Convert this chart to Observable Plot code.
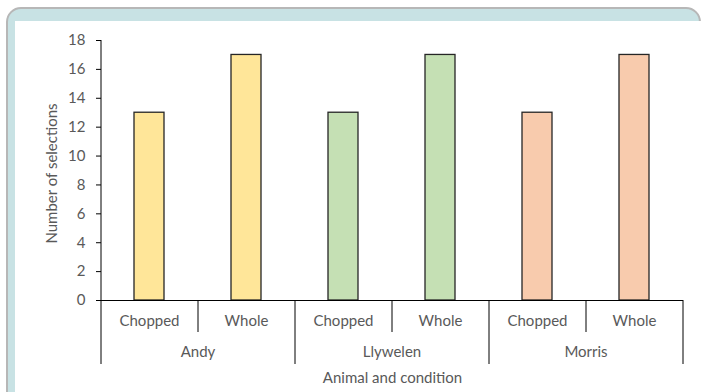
<!DOCTYPE html>
<html>
<head>
<meta charset="utf-8">
<script src="https://cdn.jsdelivr.net/npm/d3@7"></script>
<script src="https://cdn.jsdelivr.net/npm/@observablehq/plot@0.6"></script>
<style>
  html, body { margin: 0; padding: 0; background: #fff; }
  body { width: 701px; height: 392px; position: relative; overflow: hidden; }
  #panel {
    position: absolute; left: 6px; top: 7px; width: 691px; height: 430px;
    border: 2px solid #b7b7b7; border-radius: 15px; background: #c8e2e4;
  }
  #sheet { position: absolute; left: 15px; top: 21px; right: 0; bottom: 0; background: #fff; }
  #chart { position: absolute; left: 0; top: 0; }
</style>
</head>
<body>
<div id="panel"></div>
<div id="sheet"></div>
<div id="chart"></div>
<script>
// Selections per animal and food condition
const animals = ["Andy", "Llywelen", "Morris"];
const conditions = ["Chopped", "Whole"];
const selections = [13, 17, 13, 17, 13, 17];
const animalColors = ["#FFE699", "#C5E0B4", "#F8CBAD"];
const yTicks = [0, 2, 4, 6, 8, 10, 12, 14, 16, 18];
const yLabel = "Number of selections";
const xLabel = "Animal and condition";

const rows = [];
animals.forEach((a, i) => conditions.forEach((c, j) => {
  rows.push({animal: a, condition: c, key: `${a}|${c}`, value: selections[i * conditions.length + j]});
}));
const keys = rows.map(d => d.key);

const width = 701, height = 392;
const marginLeft = 101, marginRight = 18, marginTop = 40, marginBottom = 92;
const plotH = height - marginTop - marginBottom;
const step = (width - marginLeft - marginRight) / keys.length;
const gray = "#595959";

const chart = Plot.plot({
  width, height, marginLeft, marginRight, marginTop, marginBottom,
  style: {fontFamily: "Lato, 'Liberation Sans', sans-serif", fontSize: "15px", color: "#000", background: "transparent", overflow: "visible"},
  x: {type: "band", domain: keys, paddingInner: 0.69, paddingOuter: 0.345, axis: null},
  y: {domain: [0, 18]},
  color: {domain: animals, range: animalColors},
  marks: [
    Plot.barY(rows, {x: "key", y: "value", fill: "animal", stroke: "#262626", strokeWidth: 1.3}),
    Plot.axisY({ticks: yTicks, tickSize: 5, tickPadding: 11, label: null, fill: gray, stroke: "#000"}),
    Plot.ruleX([0], {x: () => keys[0], dx: -step / 2, insetTop: 0, stroke: "#000"}),
    Plot.ruleY([0], {stroke: "#000"}),
    // condition labels under each bar
    Plot.text(rows, {x: "key", text: "condition", frameAnchor: "bottom", lineAnchor: "middle", dy: 21, fill: gray}),
    // short dividers between conditions
    Plot.ruleX(rows.filter(d => d.condition !== conditions[0]), {x: "key", dx: -step / 2, insetTop: plotH, insetBottom: -32, stroke: "#000"}),
    // long dividers between animals
    Plot.ruleX(rows.filter(d => d.condition === conditions[0]), {x: "key", dx: -step / 2, insetTop: plotH, insetBottom: -64, stroke: "#000"}),
    Plot.ruleX(rows.slice(-1), {x: "key", dx: step / 2, insetTop: plotH, insetBottom: -64, stroke: "#000"}),
    // animal labels centred under each pair
    Plot.text(rows.filter(d => d.condition === conditions[0]), {x: "key", text: "animal", dx: step / 2, frameAnchor: "bottom", lineAnchor: "middle", dy: 52, fill: gray}),
    Plot.text([xLabel], {frameAnchor: "bottom", lineAnchor: "middle", dy: 78, fill: gray}),
    Plot.text([yLabel], {frameAnchor: "left", textAnchor: "middle", rotate: -90, lineAnchor: "middle", dx: -49, dy: 3, fill: gray})
  ]
});
document.getElementById("chart").appendChild(chart);
</script>
</body>
</html>
